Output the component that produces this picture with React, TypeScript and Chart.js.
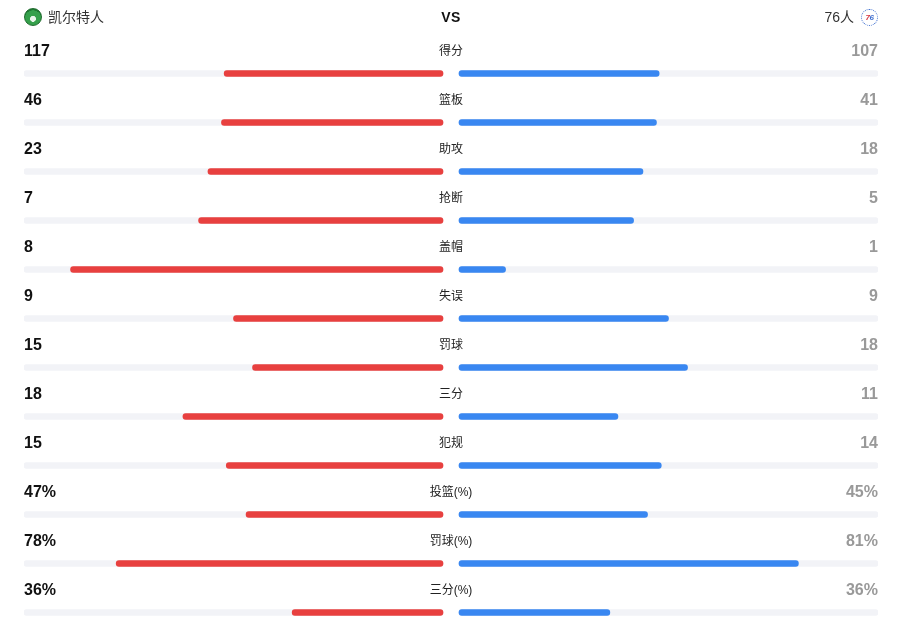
import React, { useEffect, useRef, useState } from "react";
import { Chart, registerables } from "chart.js";

Chart.register(...registerables);

const HOME_TEAM = "凯尔特人";
const AWAY_TEAM = "76人";
const categories = ["得分", "篮板", "助攻", "抢断", "盖帽", "失误", "罚球", "三分", "犯规", "投篮(%)", "罚球(%)", "三分(%)"];
const homeValues = [117, 46, 23, 7, 8, 9, 15, 18, 15, 47, 78, 36];
const awayValues = [107, 41, 18, 5, 1, 9, 18, 11, 14, 45, 81, 36];
const isPercent = [false, false, false, false, false, false, false, false, false, true, true, true];

const W = 905;
const H = 626;
const GAP = 8 / 419; // half gap between the two tracks, in track-length units
const HOME_COLOR = "#e8403f";
const AWAY_COLOR = "#3987f1";
const TRACK_COLOR = "#f2f3f7";
const FONT = '"Liberation Sans", Arial, "Noto Sans CJK SC", sans-serif';

function fractions(i: number): [number, number] {
  const a = homeValues[i];
  const b = awayValues[i];
  if (isPercent[i]) return [a / 100, b / 100];
  const s = a + b;
  return s > 0 ? [a / s, b / s] : [0, 0];
}

function fmt(v: number, i: number) {
  return isPercent[i] ? `${v}%` : `${v}`;
}

export default function App() {
  const canvasRef = useRef<HTMLCanvasElement | null>(null);
  const [rowY, setRowY] = useState<number[]>([]);

  useEffect(() => {
    document.body.style.margin = "0";
    const canvas = canvasRef.current;
    if (!canvas) return;
    const homeData = categories.map((_, i) => ({ y: i, x: [-GAP - fractions(i)[0], -GAP] }));
    const awayData = categories.map((_, i) => ({ y: i, x: [GAP, GAP + fractions(i)[1]] }));
    const trackData = [
      ...categories.map((_, i) => ({ y: i, x: [-1 - GAP, -GAP] })),
      ...categories.map((_, i) => ({ y: i, x: [GAP, 1 + GAP] })),
    ];
    const chart = new Chart(canvas, {
      type: "bar",
      data: {
        datasets: [
          { label: HOME_TEAM, data: homeData as any, backgroundColor: HOME_COLOR, order: 1 },
          { label: AWAY_TEAM, data: awayData as any, backgroundColor: AWAY_COLOR, order: 1 },
          { label: "track", data: trackData as any, backgroundColor: TRACK_COLOR, order: 2 },
        ],
      },
      options: {
        indexAxis: "y",
        animation: false,
        responsive: false,
        maintainAspectRatio: false,
        events: [],
        datasets: {
          bar: {
            grouped: false,
            barThickness: 6,
            borderRadius: 3,
            borderSkipped: false,
          } as any,
        },
        layout: { padding: { left: 24, right: 27, top: 24.5, bottom: 3.7 } },
        plugins: { legend: { display: false }, tooltip: { enabled: false } },
        scales: {
          x: { type: "linear", min: -1 - GAP, max: 1 + GAP, display: false, bounds: "data", offset: false },
          y: { type: "linear", min: -1, max: 11.2, reverse: true, display: false, bounds: "data", offset: false, grid: { offset: false } },
        },
      },
    });
    const ys = categories.map((_, i) => chart.scales.y.getPixelForValue(i));
    setRowY(ys);
    return () => chart.destroy();
  }, []);

  const abs = (extra: React.CSSProperties): React.CSSProperties => ({
    position: "absolute",
    lineHeight: "20px",
    height: 20,
    whiteSpace: "nowrap",
    fontFamily: FONT,
    ...extra,
  });

  return (
    <div style={{ position: "fixed", left: 0, top: 0, width: W, height: H, overflow: "hidden", background: "#fff" }}>
      <canvas ref={canvasRef} width={W} height={H} style={{ position: "absolute", left: 0, top: 0, width: W, height: H, display: "block" }} />
      {/* header */}
      <div
        style={{
          position: "absolute",
          left: 24,
          top: 8,
          width: 18,
          height: 18,
          borderRadius: "50%",
          boxSizing: "border-box",
          border: "1px solid #1d6a2c",
          background: "radial-gradient(circle at 50% 62%, #e9f5ea 0 22%, #35a04b 24% 66%, #1f7a33 68%)",
        }}
      />
      <div style={abs({ left: 48, top: 7, fontSize: 14, color: "#333" })}>{HOME_TEAM}</div>
      <div style={abs({ left: 451, top: 7, transform: "translateX(-50%)", fontSize: 14, fontWeight: 700, color: "#111", letterSpacing: 0.5 })}>VS</div>
      <div style={abs({ right: 51, top: 7, fontSize: 14, color: "#333" })}>{AWAY_TEAM}</div>
      <div
        style={{
          position: "absolute",
          left: 861,
          top: 9,
          width: 17,
          height: 17,
          borderRadius: "50%",
          boxSizing: "border-box",
          border: "1.5px dotted #3f6fcf",
          background: "#fff",
          display: "flex",
          alignItems: "center",
          justifyContent: "center",
          fontFamily: FONT,
          fontSize: 8,
          fontWeight: 700,
          fontStyle: "italic",
          color: "#3f6fcf",
          letterSpacing: -0.5,
        }}
      >
        <span style={{ color: "#d6353f" }}>7</span>6
      </div>
      {/* rows */}
      {rowY.map((y, i) => (
        <React.Fragment key={categories[i]}>
          <div style={abs({ left: 24, top: y - 32.5, fontSize: 16, fontWeight: 700, color: "#111" })}>{fmt(homeValues[i], i)}</div>
          <div style={abs({ left: 451, top: y - 32.5, transform: "translateX(-50%)", fontSize: 12, color: "#222" })}>{categories[i]}</div>
          <div style={abs({ right: 27, top: y - 32.5, fontSize: 16, fontWeight: 700, color: "#999" })}>{fmt(awayValues[i], i)}</div>
        </React.Fragment>
      ))}
    </div>
  );
}
